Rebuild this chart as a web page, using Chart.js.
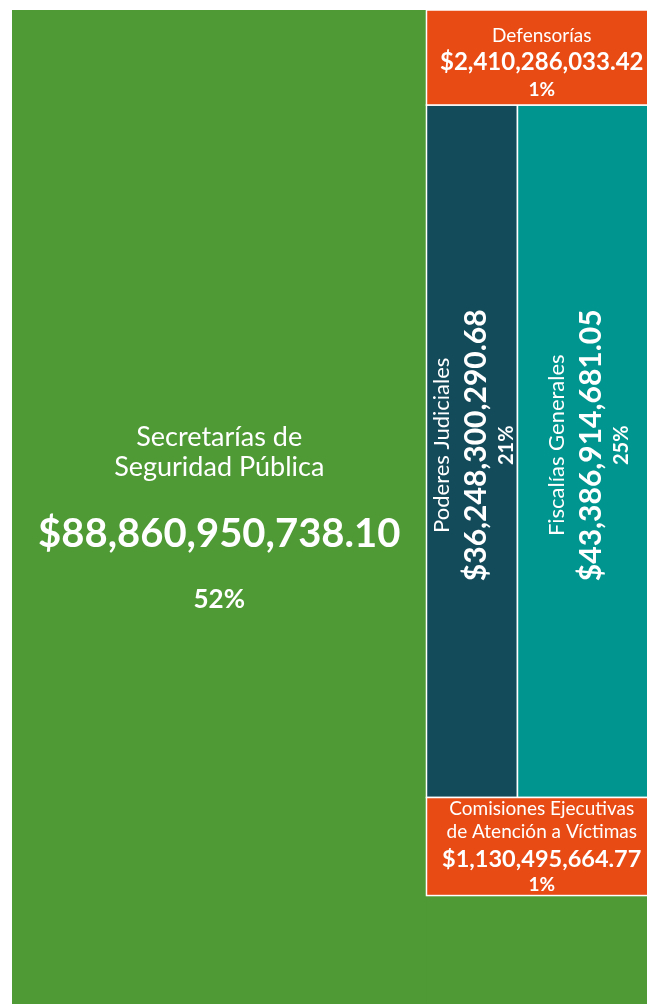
<!DOCTYPE html>
<html lang="es">
<head>
    <meta charset="UTF-8">
    <meta name="viewport" content="width=device-width, initial-scale=1.0">
    <title>Presupuesto por tipo de institución</title>
    <script src="https://cdn.jsdelivr.net/npm/chart.js"></script>
    <style>
        html, body {
            margin: 0;
            padding: 0;
            background: #fff;
            overflow: hidden;
        }
        .wrap {
            width: 660px;
            height: 1030px;
        }
    </style>
</head>
<body>
    <div class="wrap">
        <canvas id="treemap" width="660" height="1030"></canvas>
    </div>

    <script>
        // data
        const categories = [
            ['Secretarías de', 'Seguridad Pública'],
            ['Poderes Judiciales'],
            ['Fiscalías Generales'],
            ['Defensorías'],
            ['Comisiones Ejecutivas', 'de Atención a Víctimas']
        ];
        const amounts = [88860950738.10, 36248300290.68, 43386914681.05, 2410286033.42, 1130495664.77];

        // styles
        const cellColors = ['#509a36', '#134b5b', '#00958e', '#e84b14', '#e84b14'];

        // cell bounds in % of the drawing area (0..100 on both scales)
        const cellBounds = [
            { x0: 0, x1: 64.26, y0: 0, y1: 100 },
            { x0: 64.26, x1: 78.37, y0: 9.35, y1: 77.51 },
            { x0: 78.37, x1: 100, y0: 9.35, y1: 77.51 },
            { x0: 64.26, x1: 100, y0: 0, y1: 9.35 },
            { x0: 64.26, x1: 100, y0: 77.51, y1: 87.16 }
        ];

        // label look per cell: fonts and baseline offsets from the cell centre
        const F = 'Lato, "DejaVu Sans", sans-serif';
        const labelStyles = [
            { rotate: false, shift: 0, name: '400 27px ' + F, nameDy: [-72, -42], value: '700 40px ' + F, valueDy: 29, pct: '700 26px ' + F, pctDy: 90 },
            { rotate: true, shift: -6, name: '400 22px ' + F, nameDy: [-23], value: '700 30px ' + F, valueDy: 14, pct: '700 20px ' + F, pctDy: 41 },
            { rotate: true, shift: -6, name: '400 22px ' + F, nameDy: [-23], value: '700 30px ' + F, valueDy: 14, pct: '700 20px ' + F, pctDy: 41 },
            { rotate: false, shift: 0, name: '400 19px ' + F, nameDy: [-15.5], value: '700 24px ' + F, valueDy: 12.5, pct: '700 19px ' + F, pctDy: 38.5 },
            { rotate: false, shift: 0, name: '400 19px ' + F, nameDy: [-31.5, -8.5], value: '700 23.5px ' + F, valueDy: 20.5, pct: '700 19px ' + F, pctDy: 44.5 }
        ];

        const total = amounts.reduce((a, b) => a + b, 0);
        const money = v => '$' + v.toLocaleString('en-US', { minimumFractionDigits: 2, maximumFractionDigits: 2 });
        const pct = v => Math.round(v / total * 100) + '%';

        const treemapPlugin = {
            id: 'treemapCells',
            beforeDatasetsDraw(chart) {
                const { ctx, chartArea, scales: { x, y } } = chart;
                ctx.save();
                // the first category also fills the whole area behind the others
                ctx.fillStyle = cellColors[0];
                ctx.fillRect(chartArea.left, chartArea.top, chartArea.width, chartArea.height);

                cellBounds.forEach((c, i) => {
                    const left = x.getPixelForValue(c.x0);
                    const right = x.getPixelForValue(c.x1);
                    const top = y.getPixelForValue(c.y0);
                    const bottom = y.getPixelForValue(c.y1);
                    ctx.fillStyle = cellColors[i];
                    ctx.fillRect(left, top, right - left, bottom - top);
                    if (i > 0) {
                        ctx.strokeStyle = '#ffffff';
                        ctx.lineWidth = 1.5;
                        ctx.strokeRect(left, top, right - left, bottom - top);
                    }

                    const s = labelStyles[i];
                    const cx = (left + right) / 2;
                    const cy = (top + bottom) / 2 + s.shift;
                    ctx.save();
                    ctx.translate(cx, cy);
                    if (s.rotate) ctx.rotate(-Math.PI / 2);
                    ctx.fillStyle = '#ffffff';
                    ctx.textAlign = 'center';
                    ctx.textBaseline = 'alphabetic';
                    ctx.font = s.name;
                    categories[i].forEach((line, k) => ctx.fillText(line, 0, s.nameDy[k]));
                    ctx.font = s.value;
                    ctx.fillText(money(amounts[i]), 0, s.valueDy);
                    ctx.font = s.pct;
                    ctx.fillText(pct(amounts[i]), 0, s.pctDy);
                    ctx.restore();
                });
                ctx.restore();
            }
        };

        new Chart(document.getElementById('treemap'), {
            type: 'scatter',
            data: {
                labels: categories.map(c => c.join(' ')),
                datasets: [{ data: [], pointRadius: 0 }]
            },
            options: {
                responsive: false,
                animation: false,
                devicePixelRatio: 1,
                layout: { padding: { left: 12, top: 10, right: 3, bottom: 4 } },
                scales: {
                    x: { type: 'linear', min: 0, max: 100, display: false },
                    y: { type: 'linear', min: 0, max: 100, reverse: true, display: false }
                },
                plugins: {
                    legend: { display: false },
                    tooltip: { enabled: false }
                }
            },
            plugins: [treemapPlugin]
        });
    </script>
</body>
</html>
